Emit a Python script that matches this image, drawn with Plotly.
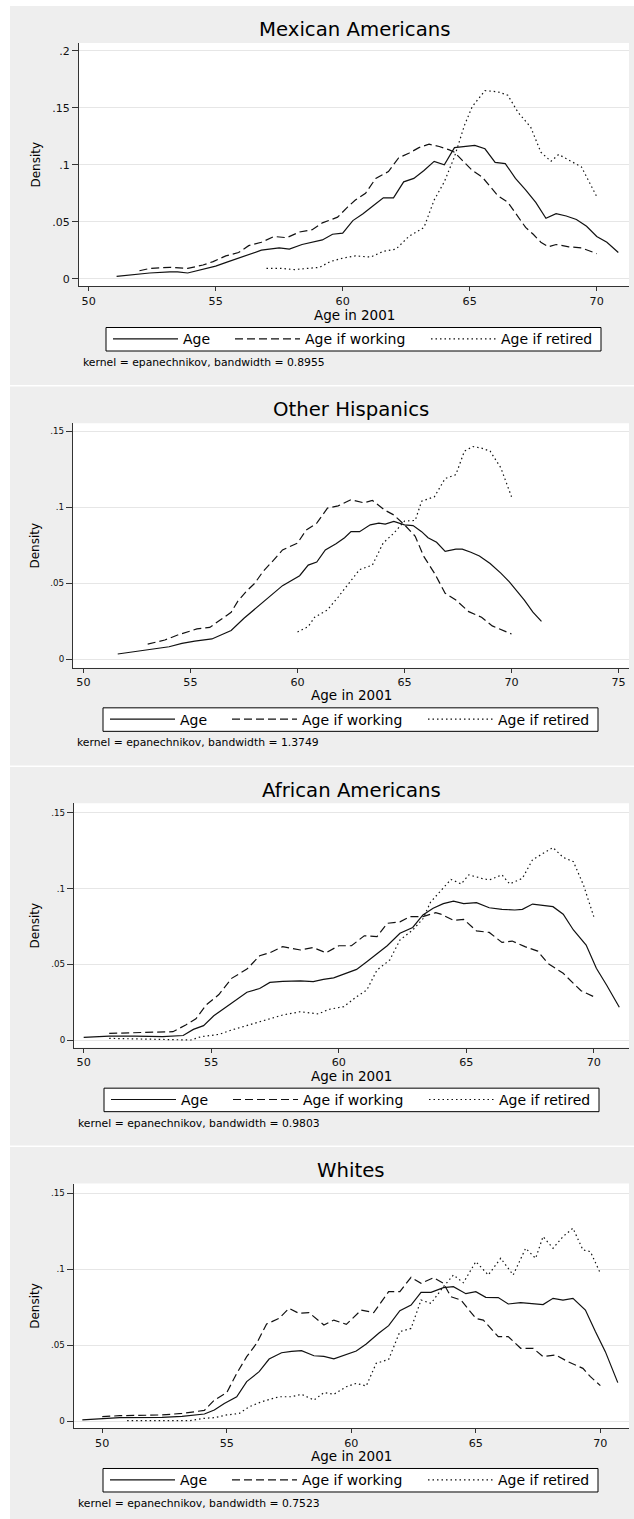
import plotly.graph_objects as go

W, H = 634, 1519
FONT = "DejaVu Sans, Liberation Sans, Arial, sans-serif"

titles = ["Mexican Americans", "Other Hispanics", "African Americans", "Whites"]
bandwidths = ["0.8955", "1.3749", "0.9803", "0.7523"]
series_names = ["Age", "Age if working", "Age if retired"]

# ---------------- Mexican Americans ----------------
mex_age_x = [51.1, 52.4, 53.2, 53.5, 53.9, 54.5, 55.0, 55.5, 55.9, 56.4, 56.8, 57.5, 57.9, 58.4, 58.8,
             59.2, 59.6, 60.0, 60.4, 60.8, 61.2, 61.6, 62.0, 62.4, 62.8, 63.2, 63.6, 64.0, 64.4, 64.8,
             65.2, 65.6, 66.0, 66.4, 66.8, 67.2, 67.6, 68.0, 68.4, 68.8, 69.2, 69.6, 70.0, 70.4, 70.85]
mex_age_y = [0.002, 0.005, 0.006, 0.006, 0.005, 0.008, 0.011, 0.015, 0.018, 0.022, 0.025, 0.027, 0.026,
             0.030, 0.032, 0.034, 0.039, 0.040, 0.051, 0.057, 0.064, 0.071, 0.071, 0.085, 0.088, 0.095,
             0.103, 0.100, 0.115, 0.116, 0.117, 0.114, 0.102, 0.101, 0.088, 0.078, 0.067, 0.053, 0.057,
             0.055, 0.052, 0.046, 0.037, 0.032, 0.023]
mex_work_x = [52.0, 52.4, 53.2, 53.9, 54.5, 54.9, 55.4, 55.9, 56.3, 56.8, 57.3, 57.8, 58.3, 58.8, 59.2,
              59.8, 60.2, 60.5, 60.9, 61.3, 61.8, 62.2, 62.6, 63.0, 63.4, 63.8, 64.2, 64.4, 64.7, 65.1,
              65.5, 66.1, 66.5, 66.9, 67.2, 67.5, 67.8, 68.1, 68.4, 68.9, 69.4, 70.0]
mex_work_y = [0.007, 0.009, 0.010, 0.009, 0.012, 0.015, 0.020, 0.023, 0.029, 0.032, 0.037, 0.036, 0.041,
              0.043, 0.049, 0.054, 0.063, 0.069, 0.075, 0.088, 0.094, 0.106, 0.110, 0.115, 0.118, 0.116,
              0.113, 0.111, 0.104, 0.095, 0.089, 0.073, 0.067, 0.055, 0.045, 0.039, 0.032, 0.028, 0.030,
              0.028, 0.027, 0.022]
mex_ret_x = [57.0, 57.6, 58.1, 58.6, 59.1, 59.5, 60.0, 60.5, 61.1, 61.6, 62.1, 62.6, 63.2, 63.6, 64.0,
             64.4, 64.8, 65.1, 65.6, 66.1, 66.5, 66.9, 67.4, 67.8, 68.2, 68.5, 68.9, 69.4, 70.0]
mex_ret_y = [0.009, 0.009, 0.008, 0.009, 0.010, 0.015, 0.018, 0.020, 0.019, 0.024, 0.026, 0.037, 0.045,
             0.069, 0.085, 0.107, 0.135, 0.151, 0.165, 0.164, 0.161, 0.146, 0.133, 0.111, 0.103, 0.109,
             0.104, 0.098, 0.072]

# ---------------- Other Hispanics ----------------
oth_age_x = [51.6, 52.7, 54.0, 54.6, 55.2, 56.0, 56.9, 57.5, 58.1, 58.5, 58.9, 59.3, 60.1, 60.5, 60.9,
             61.3, 61.8, 62.2, 62.5, 62.9, 63.4, 63.8, 64.1, 64.5, 65.0, 65.4, 65.8, 66.1, 66.5, 66.9,
             67.4, 67.7, 68.1, 68.5, 69.0, 69.5, 69.9, 70.3, 70.6, 71.0, 71.4]
oth_age_y = [0.0035, 0.0057, 0.0083, 0.0105, 0.012, 0.0134, 0.019, 0.027, 0.034, 0.039, 0.0435, 0.0485,
             0.055, 0.062, 0.064, 0.072, 0.076, 0.080, 0.084, 0.084, 0.0885, 0.0896, 0.089, 0.0907,
             0.0885, 0.088, 0.084, 0.080, 0.077, 0.071, 0.0725, 0.0725, 0.0705, 0.068, 0.063, 0.0567,
             0.051, 0.0445, 0.039, 0.031, 0.025]
oth_work_x = [53.0, 53.8, 54.4, 55.0, 55.3, 55.9, 56.4, 56.9, 57.2, 57.6, 58.0, 58.4, 58.8, 59.3, 60.0,
              60.4, 60.9, 61.4, 61.9, 62.5, 63.1, 63.5, 64.1, 64.5, 65.0, 65.5, 65.9, 66.4, 66.9, 67.4,
              68.0, 68.6, 69.1, 69.6, 70.0]
oth_work_y = [0.010, 0.0127, 0.016, 0.019, 0.020, 0.021, 0.026, 0.031, 0.038, 0.0446, 0.050, 0.058,
              0.064, 0.072, 0.0765, 0.085, 0.0896, 0.0995, 0.101, 0.105, 0.103, 0.1045, 0.098, 0.095,
              0.0885, 0.081, 0.0677, 0.0567, 0.0435, 0.039, 0.0314, 0.0277, 0.022, 0.019, 0.0167]
oth_ret_x = [60.0, 60.5, 60.8, 61.4, 61.9, 62.4, 62.9, 63.5, 64.0, 64.5, 65.0, 65.5, 65.8, 66.4, 66.9,
             67.4, 67.8, 68.2, 68.6, 69.0, 69.5, 70.0]
oth_ret_y = [0.018, 0.0215, 0.0277, 0.0325, 0.041, 0.050, 0.059, 0.062, 0.0765, 0.083, 0.091, 0.0914,
             0.104, 0.107, 0.119, 0.1215, 0.137, 0.140, 0.139, 0.137, 0.126, 0.107]

# ---------------- African Americans ----------------
afr_age_x = [50.0, 51.0, 52.0, 53.1, 53.9, 54.3, 54.7, 55.1, 55.6, 56.1, 56.4, 56.9, 57.3, 57.8, 58.5,
             59.0, 59.4, 59.8, 60.3, 60.7, 61.1, 61.5, 61.9, 62.4, 62.9, 63.3, 63.7, 64.1, 64.5, 64.9,
             65.4, 65.9, 66.4, 66.9, 67.2, 67.6, 68.0, 68.4, 68.8, 69.2, 69.7, 70.1, 70.5, 71.0]
afr_age_y = [0.0018, 0.0026, 0.0026, 0.0022, 0.003, 0.007, 0.0095, 0.016, 0.022, 0.0277, 0.0315, 0.034,
             0.038, 0.0387, 0.039, 0.0385, 0.040, 0.041, 0.0444, 0.0466, 0.0517, 0.0567, 0.0622, 0.0704,
             0.0743, 0.0825, 0.0869, 0.090, 0.0917, 0.090, 0.0906, 0.0873, 0.0862, 0.0858, 0.0862,
             0.0897, 0.089, 0.088, 0.083, 0.0726, 0.0627, 0.0473, 0.0363, 0.0216]
afr_work_x = [51.0, 52.0, 52.9, 53.5, 54.0, 54.4, 54.8, 55.3, 55.8, 56.4, 56.9, 57.3, 57.8, 58.5, 59.0,
              59.5, 60.0, 60.5, 61.0, 61.5, 61.9, 62.4, 62.8, 63.3, 63.8, 64.0, 64.5, 64.9, 65.4, 65.9,
              66.4, 66.8, 67.3, 67.8, 68.2, 68.8, 69.5, 70.0]
afr_work_y = [0.0044, 0.0048, 0.0053, 0.0055, 0.0099, 0.014, 0.0231, 0.030, 0.0407, 0.0468, 0.0556,
              0.0576, 0.0616, 0.0594, 0.061, 0.0576, 0.0622, 0.0622, 0.0688, 0.0682, 0.077, 0.078,
              0.0814, 0.0814, 0.084, 0.0831, 0.079, 0.0796, 0.072, 0.071, 0.0644, 0.0653, 0.0616,
              0.0587, 0.0506, 0.044, 0.0325, 0.0286]
afr_ret_x = [51.0, 52.0, 53.1, 54.2, 54.6, 55.3, 55.8, 56.4, 57.2, 57.8, 58.5, 59.2, 59.6, 60.2, 60.7,
             61.1, 61.5, 62.0, 62.4, 62.9, 63.3, 63.6, 64.0, 64.4, 64.8, 65.1, 65.6, 65.9, 66.4, 66.7,
             67.2, 67.6, 68.0, 68.4, 68.8, 69.2, 69.6, 70.0]
afr_ret_y = [0.0011, 0.0007, 0.0, 0.0, 0.0022, 0.0037, 0.0066, 0.0095, 0.0132, 0.0165, 0.0187, 0.0172,
             0.0202, 0.022, 0.0286, 0.033, 0.0462, 0.0528, 0.066, 0.0726, 0.080, 0.091, 0.0985, 0.106,
             0.103, 0.109, 0.1067, 0.1056, 0.109, 0.103, 0.1067, 0.119, 0.123, 0.127, 0.1205, 0.1177,
             0.102, 0.0814]

# ---------------- Whites ----------------
wht_age_x = [49.2, 50.0, 50.7, 52.4, 53.2, 54.1, 54.5, 54.9, 55.4, 55.8, 56.3, 56.7, 57.2, 57.6, 58.0,
             58.5, 58.9, 59.3, 59.8, 60.2, 60.6, 61.1, 61.5, 61.95, 62.4, 62.8, 63.2, 63.7, 64.1, 64.6,
             65.0, 65.4, 65.9, 66.3, 66.8, 67.3, 67.7, 68.1, 68.5, 68.9, 69.4, 69.8, 70.2, 70.7]
wht_age_y = [0.0007, 0.0015, 0.0022, 0.0024, 0.003, 0.0046, 0.0072, 0.0116, 0.016, 0.026, 0.0325, 0.0408,
             0.045, 0.0459, 0.0463, 0.043, 0.0426, 0.041, 0.0441, 0.0461, 0.0507, 0.0578, 0.0628, 0.0727,
             0.0764, 0.0848, 0.0848, 0.0879, 0.0885, 0.0839, 0.0852, 0.0815, 0.0813, 0.0771, 0.078,
             0.0775, 0.0767, 0.0808, 0.0797, 0.0808, 0.0731, 0.0589, 0.0457, 0.0253]
wht_work_x = [50.0, 50.7, 52.4, 53.2, 54.1, 54.5, 55.0, 55.4, 55.8, 56.2, 56.6, 57.1, 57.5, 57.9, 58.3,
              58.9, 59.3, 59.8, 60.4, 60.9, 61.5, 61.95, 62.4, 62.8, 63.3, 63.7, 64.0, 64.4, 65.0, 65.3,
              65.9, 66.3, 66.8, 67.3, 67.7, 68.2, 68.7, 69.3, 69.6, 70.0]
wht_work_y = [0.0029, 0.0035, 0.004, 0.005, 0.007, 0.0138, 0.0187, 0.0314, 0.0424, 0.0512, 0.0639,
              0.0676, 0.0742, 0.0709, 0.0714, 0.0633, 0.0665, 0.0637, 0.0731, 0.0714, 0.0852, 0.0852,
              0.0947, 0.0907, 0.0944, 0.0907, 0.0819, 0.0797, 0.0676, 0.0665, 0.0556, 0.0556, 0.0479,
              0.0479, 0.0424, 0.0435, 0.0391, 0.0347, 0.0292, 0.0233]
wht_ret_x = [51.0, 52.4, 53.5, 54.1, 54.5, 55.0, 55.5, 55.9, 56.4, 57.1, 57.6, 58.0, 58.5, 58.9, 59.3,
             59.8, 60.2, 60.6, 61.0, 61.5, 61.95, 62.4, 62.8, 63.2, 63.7, 64.1, 64.5, 65.0, 65.5, 66.0,
             66.5, 67.0, 67.4, 67.7, 68.1, 68.5, 68.9, 69.3, 69.6, 70.0]
wht_ret_y = [0.0002, 0.0, 0.0002, 0.0018, 0.0022, 0.004, 0.005, 0.0094, 0.0127, 0.016, 0.016, 0.0176,
             0.0138, 0.0187, 0.0176, 0.0226, 0.0248, 0.0231, 0.038, 0.0406, 0.0589, 0.061, 0.0797, 0.0775,
             0.0885, 0.0962, 0.0911, 0.105, 0.0962, 0.1072, 0.0962, 0.1138, 0.1072, 0.1215, 0.1138,
             0.1215, 0.127, 0.1127, 0.1116, 0.0973]

panel_data = [
    [(mex_age_x, mex_age_y), (mex_work_x, mex_work_y), (mex_ret_x, mex_ret_y)],
    [(oth_age_x, oth_age_y), (oth_work_x, oth_work_y), (oth_ret_x, oth_ret_y)],
    [(afr_age_x, afr_age_y), (afr_work_x, afr_work_y), (afr_ret_x, afr_ret_y)],
    [(wht_age_x, wht_age_y), (wht_work_x, wht_work_y), (wht_ret_x, wht_ret_y)],
]

x_ticks = [[50, 55, 60, 65, 70], [50, 55, 60, 65, 70, 75], [50, 55, 60, 65, 70], [50, 55, 60, 65, 70]]
y_ticks = [[0, 0.05, 0.1, 0.15, 0.2], [0, 0.05, 0.1, 0.15], [0, 0.05, 0.1, 0.15], [0, 0.05, 0.1, 0.15]]
y_ticktext = [["0", ".05", ".1", ".15", ".2"], ["0", ".05", ".1", ".15"],
              ["0", ".05", ".1", ".15"], ["0", ".05", ".1", ".15"]]
x_ranges = [[49.62, 71.27], [49.51, 75.49], [49.62, 71.38], [48.85, 71.15]]
y_ranges = [[-0.0064, 0.2068], [-0.0055, 0.1553], [-0.005, 0.1562], [-0.0046, 0.1564]]

# ---- layout geometry in pixels ----
plot_left = [79, 73, 74, 73.6]
plot_right = 629
plot_top = [43, 423.3, 803.3, 1183.6]
plot_bottom = [286, 667.7, 1047.6, 1428]
panel_top = [6, 386.5, 767, 1147]
panel_bottom = [385, 765.5, 1145.5, 1519]
legend_box_left = [106, 103, 104, 103]
legend_box_w = 495
legend_box_h = 23.5
step = 380.33

dashes = ["solid", "8px,4px", "1.5px,3px"]
legend_widths = [42, 116, 100]
ytick_font = [11, 8.7, 8.7, 8.7]


def px(x):
    return x / W


def py(y):
    return 1 - y / H


fig = go.Figure()
shapes = []
annotations = []
layout = {}

for i in range(4):
    sfx = "" if i == 0 else str(i + 1)
    xa, ya = "x" + sfx, "y" + sfx
    leg = "legend" + sfx
    off = step * i
    for k, (xs, ys) in enumerate(panel_data[i]):
        fig.add_trace(go.Scatter(
            x=xs, y=ys, mode="lines", name=series_names[k],
            line=dict(color="#111111", width=1.2, dash=dashes[k]),
            xaxis=xa, yaxis=ya, legend=leg, legendwidth=legend_widths[k],
            hoverinfo="skip"))

    layout["xaxis" + sfx] = dict(
        domain=[px(plot_left[i]), px(plot_right)], range=x_ranges[i], anchor=ya,
        tickmode="array", tickvals=x_ticks[i], ticktext=[str(t) for t in x_ticks[i]],
        ticks="outside", ticklen=4, tickwidth=1, tickcolor="#333333",
        showline=True, linecolor="#333333", linewidth=1.2, showgrid=False, zeroline=False,
        tickfont=dict(family=FONT, size=11.2, color="#111111"), fixedrange=True)
    layout["yaxis" + sfx] = dict(
        domain=[py(plot_bottom[i]), py(plot_top[i])], range=y_ranges[i], anchor=xa,
        tickmode="array", tickvals=y_ticks[i], ticktext=y_ticktext[i],
        ticks="outside", ticklen=6, tickwidth=1, tickcolor="#333333",
        showline=True, linecolor="#333333", linewidth=1.2,
        showgrid=True, gridcolor="#e6e6e6", gridwidth=1, zeroline=False,
        tickfont=dict(family=FONT, size=ytick_font[i], color="#111111"), fixedrange=True)

    # panel background, white plot region, legend frame
    shapes.append(dict(type="rect", xref="paper", yref="paper", x0=px(10), x1=1,
                       y0=py(panel_bottom[i]), y1=py(panel_top[i]),
                       fillcolor="#eeeeee", line=dict(width=0), layer="below"))
    shapes.append(dict(type="rect", xref=xa + " domain", yref=ya + " domain", x0=0, x1=1,
                       y0=0, y1=1, fillcolor="#ffffff", line=dict(width=0), layer="below"))
    bt = 327.5 + off
    shapes.append(dict(type="rect", xref="paper", yref="paper",
                       x0=px(legend_box_left[i]), x1=px(legend_box_left[i] + legend_box_w),
                       y0=py(bt + legend_box_h), y1=py(bt),
                       fillcolor="#ffffff", line=dict(width=1, color="#000000"), layer="below"))

    cx = px((plot_left[i] + plot_right) / 2)
    annotations.append(dict(text=titles[i], x=cx, y=py(29.5 + off), xref="paper", yref="paper",
                            xanchor="center", yanchor="middle", showarrow=False, borderpad=0,
                            font=dict(family=FONT, size=19.7, color="#000000")))
    annotations.append(dict(text="Density", x=px(35), y=py((plot_top[i] + plot_bottom[i]) / 2),
                            xref="paper", yref="paper", textangle=-90, borderpad=0,
                            xanchor="center", yanchor="middle", showarrow=False,
                            font=dict(family=FONT, size=12, color="#000000")))
    annotations.append(dict(text="Age in 2001", x=cx, y=py(315 + off), xref="paper", yref="paper",
                            xanchor="center", yanchor="middle", showarrow=False, borderpad=0,
                            font=dict(family=FONT, size=13.5, color="#000000")))
    annotations.append(dict(text="kernel = epanechnikov, bandwidth = " + bandwidths[i],
                            x=px(plot_left[i] + 3), y=py(362.5 + off), xref="paper", yref="paper",
                            xanchor="left", yanchor="middle", showarrow=False, borderpad=0,
                            font=dict(family=FONT, size=10.8, color="#000000")))

    layout[leg] = dict(
        x=px(legend_box_left[i] + 2), y=py(bt + legend_box_h / 2), xref="paper", yref="paper",
        xanchor="left", yanchor="middle", orientation="h",
        bgcolor="rgba(0,0,0,0)", borderwidth=0,
        font=dict(family=FONT, size=14, color="#000000"),
        itemwidth=65, tracegroupgap=0, traceorder="normal",
        itemclick=False, itemdoubleclick=False)

fig.update_layout(
    width=W, height=H, autosize=False,
    margin=dict(l=0, r=0, t=0, b=0, pad=0),
    paper_bgcolor="#ffffff", plot_bgcolor="#ffffff",
    showlegend=True, shapes=shapes, annotations=annotations,
    font=dict(family=FONT, color="#000000"),
    **layout)

fig.write_html("out.html", config={"displayModeBar": False})
